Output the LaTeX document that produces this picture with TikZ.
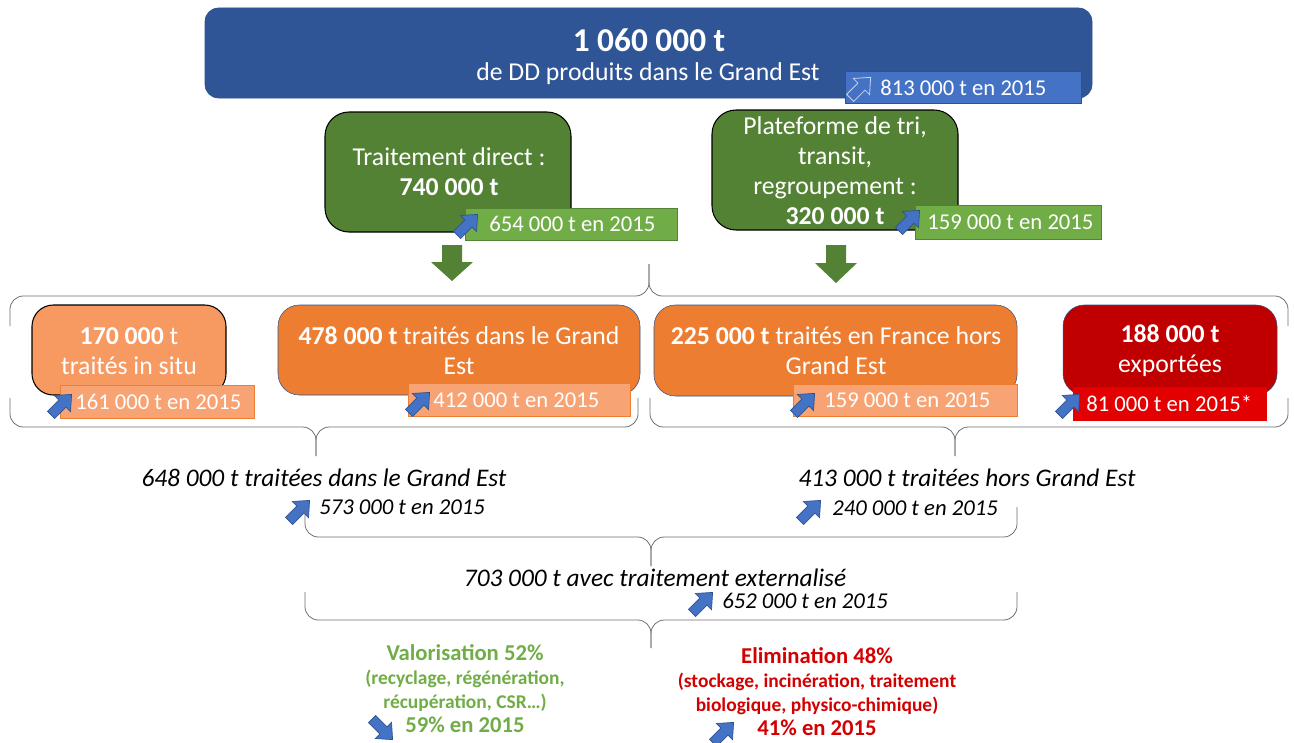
\documentclass[tikz,border=0pt]{standalone}
\usepackage{fontspec}
\setmainfont{Carlito}
\usepackage{tikz}
\definecolor{ddblue}{RGB}{47,85,151}
\definecolor{ddblueb}{RGB}{68,114,196}
\definecolor{ddedge}{RGB}{47,82,143}
\definecolor{ddgreen}{RGB}{84,130,53}
\definecolor{ddgreenb}{RGB}{112,173,71}
\definecolor{ddorange}{RGB}{237,125,49}
\definecolor{ddorangel}{RGB}{246,154,98}
\definecolor{ddorangeb}{RGB}{247,163,115}
\definecolor{ddred}{RGB}{192,0,0}
\definecolor{ddredb}{RGB}{226,0,0}
\definecolor{ddgrey}{RGB}{110,110,110}
\definecolor{valgreen}{RGB}{112,173,71}
\definecolor{elired}{RGB}{210,0,0}

\tikzset{
  boxtxt/.style={text=white, align=center, inner sep=0.75pt, font=\fontsize{19.3}{22.5}\selectfont},
  yeartxt/.style={text=white, anchor=west, inner sep=0.75pt, font=\fontsize{17}{19}\selectfont},
  sumtxt/.style={inner sep=0.75pt, font=\fontsize{19}{22}\selectfont\itshape},
  sumyear/.style={anchor=west, inner sep=0.75pt, font=\fontsize{17}{19}\selectfont\itshape},
  endtxt/.style={align=center, inner sep=0.75pt, font=\fontsize{14.6}{18}\selectfont\bfseries},
  bracket/.style={draw=ddgrey, line width=0.6pt, rounded corners=10},
  trendicon/.style={draw=ddedge, fill=ddblueb, line width=0.5pt},
  trend/.pic={\path[pic actions] (-14,-5) -- (2,-5) -- (2,-11.5) -- (15,0) -- (2,11.5) -- (2,5) -- (-14,5) -- cycle;},
}

\begin{document}
\begin{tikzpicture}[x=0.75pt,y=0.75pt,yscale=-1,xscale=1]
\useasboundingbox (0,0) rectangle (1294,742);

%Shape: Rounded Rect [id:total]
\draw[draw=ddedge, fill=ddblue, rounded corners=10] (205,8) rectangle (1092,98);
% Text Node
\node[boxtxt, font=\fontsize{25}{28}\selectfont\bfseries] (total) at (649,40) {1 060 000 t};
% Text Node
\node[boxtxt] (totalsub) at (648,74) {de DD produits dans le Grand Est};
%Shape: Rect [id:total2015]
\draw[draw=ddedge, fill=ddblueb] (845,71) rectangle (1081,103);
\pic[draw=white!70!ddblueb, line width=0.6pt, rotate=45] at (860,88) {trend};
\node[yeartxt] (total2015) at (879,88) {813 000 t en 2015};

%Shape: Rounded Rect [id:direct]
\draw[draw=black, fill=ddgreen, rounded corners=18, line width=0.8pt] (325,112) rectangle (571,232);
\node[boxtxt] (direct) at (449,172) {Traitement direct :\\\textbf{740 000 t}};
%Shape: Rect [id:direct2015]
\draw[draw=ddgreen, fill=ddgreenb] (465,208) rectangle (677,240);
\pic[trendicon, rotate=45] at (467,225) {trend};
\node[yeartxt] (direct2015) at (488,224) {654 000 t en 2015};

%Shape: Rounded Rect [id:tri]
\draw[draw=black, fill=ddgreen, rounded corners=18, line width=0.8pt] (712,110) rectangle (958,230);
\node[boxtxt] (tri) at (835,171) {Plateforme de tri,\\transit,\\regroupement :\\\textbf{320 000 t}};
%Shape: Rect [id:tri2015]
\draw[draw=ddgreen, fill=ddgreenb] (915,205) rectangle (1101,239);
\pic[trendicon, rotate=45] at (909,221) {trend};
\node[yeartxt] (tri2015) at (926,222) {159 000 t en 2015};

%Shape: Down Arrow
\fill[ddgreen] (442,245) -- (462,245) -- (462,262) -- (473,262) -- (452,281) -- (431,262) -- (442,262) -- cycle;
%Shape: Down Arrow
\fill[ddgreen] (826,245) -- (846,245) -- (846,263) -- (857,263) -- (836,283) -- (815,263) -- (826,263) -- cycle;

%Shape: Brace (top)
\draw[bracket] (10,326) -- (10,296) -- (649,296) -- (649,264);
\draw[bracket] (649,264) -- (649,296) -- (1288,296) -- (1288,326);

%Shape: Rounded Rect [id:insitu]
\draw[draw=black, fill=ddorangel, rounded corners=16, line width=0.8pt] (32,305) rectangle (226,395);
\node[boxtxt] (insitu) at (129,351) {\textbf{170 000} t\\traités in situ};
\draw[draw=ddorange, fill=ddorangeb] (60,385) rectangle (254,418);
\pic[trendicon, rotate=45] at (61,405) {trend};
\node[yeartxt] (insitu2015) at (74,402) {161 000 t en 2015};

%Shape: Rounded Rect [id:ge]
\draw[draw=ddedge, fill=ddorange, rounded corners=16] (278,305) rectangle (640,395);
\node[boxtxt] (ge) at (459,351) {\textbf{478 000 t} traités dans le Grand\\Est};
\draw[draw=ddorange, fill=ddorangeb] (408,383) rectangle (630,416);
\pic[trendicon, rotate=45] at (419,403) {trend};
\node[yeartxt] (ge2015) at (432,400) {412 000 t en 2015};

%Shape: Rounded Rect [id:france]
\draw[draw=ddedge, fill=ddorange, rounded corners=16] (654,305) rectangle (1017,396);
\node[boxtxt] (france) at (836,351) {\textbf{225 000 t} traités en France hors\\Grand Est};
\draw[draw=ddorange, fill=ddorangeb] (793,384) rectangle (1017,416);
\pic[trendicon, rotate=45] at (804,404) {trend};
\node[yeartxt] (france2015) at (823,400) {159 000 t en 2015};

%Shape: Rounded Rect [id:export]
\draw[draw=ddedge, fill=ddred, rounded corners=16] (1063,305) rectangle (1277,395);
\node[boxtxt] (export) at (1170,351) {\textbf{188 000 t}\\exportées};
\fill[ddredb] (1073,387) rectangle (1267,421);
\pic[trendicon, rotate=45] at (1069,405) {trend};
\node[yeartxt] (export2015) at (1085,404) {81 000 t en 2015*};

%Shape: Brace (Grand Est)
\draw[bracket] (10,398) -- (10,427) -- (316,427) -- (316,456);
\draw[bracket] (316,456) -- (316,427) -- (638,427) -- (638,398);
%Shape: Brace (hors Grand Est)
\draw[bracket] (650,398) -- (650,427) -- (955,427) -- (955,456);
\draw[bracket] (955,456) -- (955,427) -- (1288,427) -- (1288,398);

% Text Node
\node[sumtxt] (inGE) at (324,478) {648 000 t traitées dans le Grand Est};
\pic[trendicon, rotate=45] at (299,511) {trend};
\node[sumyear] (inGE2015) at (318,507) {573 000 t en 2015};
% Text Node
\node[sumtxt] (outGE) at (967,478) {413 000 t traitées hors Grand Est};
\pic[trendicon, rotate=45] at (810,511) {trend};
\node[sumyear] (outGE2015) at (831,508) {240 000 t en 2015};

%Shape: Brace (externalise)
\draw[bracket] (305,507) -- (305,537) -- (651,537) -- (651,566);
\draw[bracket] (651,566) -- (651,537) -- (1017,537) -- (1017,507);

% Text Node
\node[sumtxt] (ext) at (655,578) {703 000 t avec traitement externalisé};
\pic[trendicon, rotate=45] at (702,603) {trend};
\node[sumyear] (ext2015) at (721,601) {652 000 t en 2015};

%Shape: Brace (devenir)
\draw[bracket] (305,592) -- (305,620) -- (651,620) -- (651,648);
\draw[bracket] (651,648) -- (651,620) -- (1017,620) -- (1017,592);

% Text Node
\node[endtxt, text=valgreen] (valo) at (465,689) {{\fontsize{17}{18}\selectfont Valorisation 52\%}\\(recyclage, régénération,\\récupération, CSR…)\\{\fontsize{17}{18}\selectfont 59\% en 2015}};
\pic[trendicon, rotate=-45] at (382,729) {trend};
% Text Node
\node[endtxt, text=elired] (elim) at (817,692) {{\fontsize{17}{18}\selectfont Elimination 48\%}\\(stockage, incinération, traitement\\biologique, physico-chimique)\\{\fontsize{17}{18}\selectfont 41\% en 2015}};
\pic[trendicon, rotate=45] at (723,733) {trend};
\end{tikzpicture}
\end{document}
